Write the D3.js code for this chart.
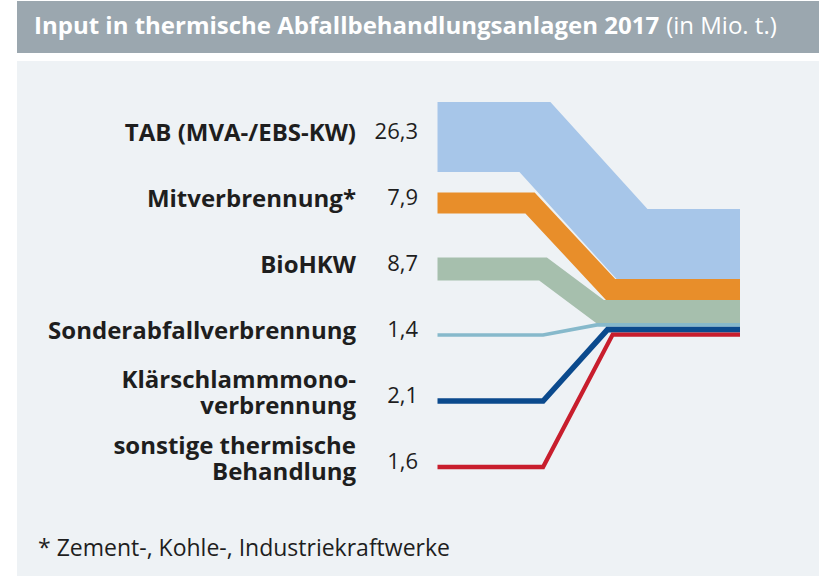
<!DOCTYPE html>
<html>
<head>
<meta charset="utf-8">
<script src="https://cdn.jsdelivr.net/npm/d3@7"></script>
<style>
  html, body { margin: 0; padding: 0; background: #ffffff; }
  svg { display: block; font-family: "Open Sans", "Noto Sans", sans-serif; }
</style>
</head>
<body>
<div id="chart"></div>
<script>
// input in thermal waste treatment plants 2017 (Mio. t)

const CATEGORIES = [
  "TAB",
  "Mitverbrennung",
  "BioHKW",
  "Sonderabfall",
  "Klaerschlamm",
  "sonstige"
];

const LABELS = [
  ["TAB (MVA-/EBS-KW)"],
  ["Mitverbrennung*"],
  ["BioHKW"],
  ["Sonderabfallverbrennung"],
  ["Klärschlammmono-", "verbrennung"],
  ["sonstige thermische", "Behandlung"]
];

const VALUES = [26.3, 7.9, 8.7, 1.4, 2.1, 1.6];

const COLORS = ["#a7c6e9", "#e88e2a", "#a6bfad", "#86b9cb", "#0b4a8d", "#c81e2d"];

// where each flow bends (share of the flow width), left bend / right bend
const BEND_LEFT = [0.322, 0.306, 0.349, 0.349, 0.349, 0.349];
const BEND_RIGHT = [0.643, 0.572, 0.537, 0.527, 0.562, 0.579];

const TITLE = "Input in thermische Abfallbehandlungsanlagen 2017";
const TITLE_UNIT = "(in Mio. t.)";
const FOOTNOTE = "* Zement-, Kohle-, Industriekraftwerke";

const fmt = v => String(v.toFixed(1)).replace(".", ",");

const width = 819, height = 577;

const svg = d3.select("#chart").append("svg")
  .attr("width", width)
  .attr("height", height);

// header + panel
svg.append("rect")
  .attr("x", 17).attr("y", 1)
  .attr("width", width - 17).attr("height", 52)
  .attr("fill", "#9ba7af");

svg.append("rect")
  .attr("x", 17).attr("y", 61)
  .attr("width", width - 17).attr("height", 515)
  .attr("fill", "#eef2f5");

const title = svg.append("text")
  .attr("x", 34).attr("y", 34)
  .attr("fill", "#ffffff")
  .style("font-size", "24px")
  .style("font-weight", "700")
  .text(TITLE);
const titleEnd = 34 + title.node().getComputedTextLength();

svg.append("text")
  .attr("x", titleEnd + 7).attr("y", 34)
  .attr("fill", "#ffffff")
  .style("font-size", "24px")
  .style("font-weight", "400")
  .text(TITLE_UNIT);

// scales
const rows = d3.scalePoint()
  .domain(CATEGORIES)
  .range([131, 461]);

const x = d3.scaleLinear().domain([0, 1]).range([437.5, 740]);

const total = d3.sum(VALUES);
const y = d3.scaleLinear().domain([0, total]).range([209, 209 + total * 2.66]);

// flows
let cum = 0;
const flows = CATEGORIES.map((c, i) => {
  const v = VALUES[i];
  const yRight = y(cum + v / 2);
  cum += v;
  const yLeft = rows(c) + 6;
  return {
    key: c,
    color: COLORS[i],
    w: y(v) - y(0),
    pts: [
      [x(0), yLeft],
      [x(BEND_LEFT[i]), yLeft],
      [x(BEND_RIGHT[i]), yRight],
      [x(1), yRight]
    ]
  };
});

const line = d3.line();

svg.append("g")
  .selectAll("path")
  .data(flows)
  .join("path")
  .attr("d", d => line(d.pts))
  .attr("fill", "none")
  .attr("stroke", d => d.color)
  .attr("stroke-width", d => d.w)
  .attr("stroke-linejoin", "miter")
  .attr("stroke-miterlimit", 10)
  .attr("stroke-linecap", "butt");

// labels
const labelG = svg.append("g");
CATEGORIES.forEach((c, i) => {
  const lines = LABELS[i];
  const cy = rows(c);
  const base = lines.length === 1 ? cy + 9.5 : cy - 7;
  lines.forEach((t, j) => {
    labelG.append("text")
      .attr("x", 356)
      .attr("y", base + j * 26)
      .attr("text-anchor", "end")
      .attr("fill", "#1e1e1e")
      .style("font-size", "24px")
      .style("font-weight", "700")
      .text(t);
  });

  labelG.append("text")
    .attr("x", 418)
    .attr("y", cy + 7.5)
    .attr("text-anchor", "end")
    .attr("fill", "#1e1e1e")
    .style("font-size", "22px")
    .style("font-weight", "400")
    .text(fmt(VALUES[i]));
});

svg.append("text")
  .attr("x", 38).attr("y", 556)
  .attr("fill", "#1e1e1e")
  .style("font-size", "23px")
  .style("font-weight", "400")
  .text(FOOTNOTE);
</script>
</body>
</html>
